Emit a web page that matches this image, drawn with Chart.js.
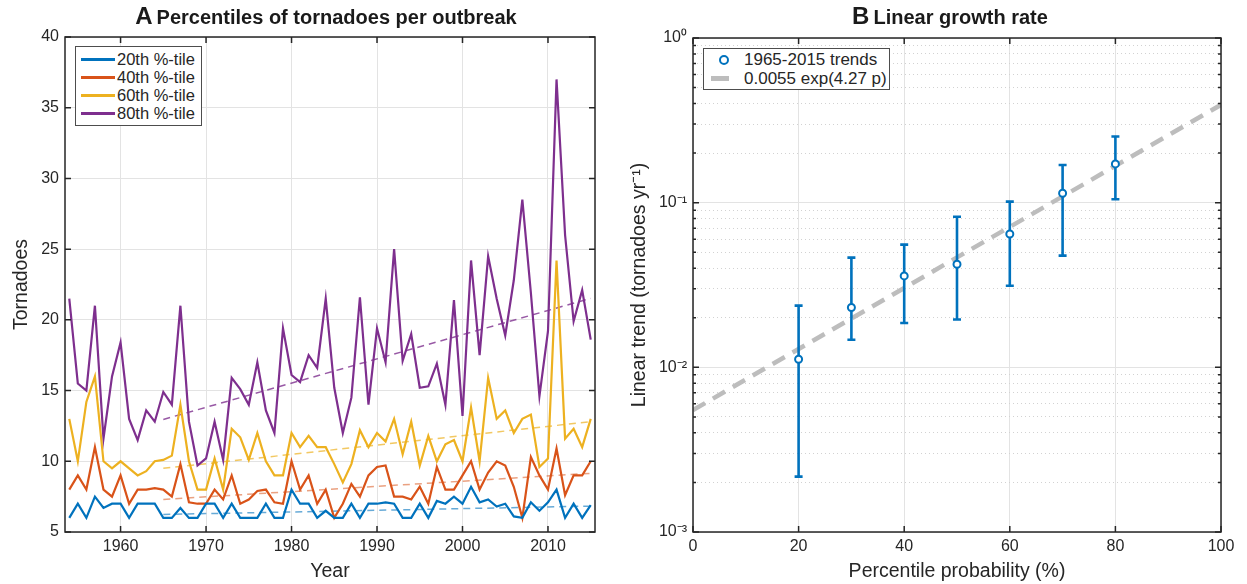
<!DOCTYPE html>
<html>
<head>
<meta charset="utf-8">
<title>Tornado outbreaks</title>
<script src="https://cdn.jsdelivr.net/npm/chart.js@4.4.1/dist/chart.umd.min.js"></script>
<style>
    body { margin: 0; background: #fff; font-family: 'Liberation Sans', Arial, sans-serif; color: #262626; }
    #page { position: relative; width: 1247px; height: 584px; overflow: hidden; }
    .panel { position: absolute; top: 0; }
    .title { position: absolute; top: 2px; transform: translateX(-50%); white-space: nowrap; font-weight: bold; font-size: 20px; color: #1a1a1a; }
    .title .tag { font-size: 24px; margin-right: 4px; }
    .legend { position: absolute; background: #fff; border: 1px solid #4d4d4d; box-sizing: border-box; }
    .legend-item { display: flex; align-items: center; white-space: nowrap; }
    .legend-line { display: inline-block; width: 34px; height: 3px; margin-right: 2px; }
    .legend-marker { display: inline-block; width: 6px; height: 6px; border: 2px solid #0072BD; border-radius: 50%; margin: 0 15px 0 15px; }
    .legend-fit { display: inline-block; width: 18px; height: 5px; background: #bdbdbd; margin: 0 15px 0 7px; }
</style>
</head>
<body>
<div id="page">
    <div class="panel" style="left:0"><canvas id="chartA" width="620" height="584"></canvas></div>
    <div class="panel" style="left:620px"><canvas id="chartB" width="627" height="584"></canvas></div>
    <div class="title" style="left:326px"><span class="tag">A</span>Percentiles of tornadoes per outbreak</div>
    <div class="title" style="left:950px"><span class="tag">B</span>Linear growth rate</div>
    <div id="legendA" class="legend" style="left:75px; top:46px; width:127px; height:80px; padding:3px 0 0 5px; font-size:16.5px; line-height:18px;"></div>
    <div id="legendB" class="legend" style="left:703px; top:48px; width:187px; height:42px; padding:1px 0 0 0; font-size:17px; line-height:19px;"></div>
</div>
<script>
// Panel A data: percentiles of tornadoes per outbreak
const years = [1954, 1955, 1956, 1957, 1958, 1959, 1960, 1961, 1962, 1963,
    1964, 1965, 1966, 1967, 1968, 1969, 1970, 1971, 1972, 1973,
    1974, 1975, 1976, 1977, 1978, 1979, 1980, 1981, 1982, 1983,
    1984, 1985, 1986, 1987, 1988, 1989, 1990, 1991, 1992, 1993,
    1994, 1995, 1996, 1997, 1998, 1999, 2000, 2001, 2002, 2003,
    2004, 2005, 2006, 2007, 2008, 2009, 2010, 2011, 2012, 2013,
    2014, 2015];
const p20 = [6, 7, 6, 7.5, 6.7, 7, 7, 6, 7, 7,
    7, 6, 6, 6.7, 6, 6, 7, 7, 6, 7,
    6, 6, 6, 7, 6, 6, 8, 7, 7, 6,
    6.5, 6, 6, 7, 6, 7, 7, 7.1, 7, 6,
    6, 7, 6, 7.2, 7, 7.5, 7, 8.2, 7.1, 7.3,
    6.8, 7, 6.1, 6, 7.1, 6.5, 7.1, 8, 6, 7,
    6, 6.9];
const p40 = [8, 9, 8, 11, 8, 7.5, 9, 7, 8, 8,
    8.1, 8, 7.5, 9.8, 7.1, 7, 7, 8, 7.3, 9,
    7, 7.3, 7.9, 8, 7.1, 7, 10, 8, 9, 7,
    8, 6, 7, 8.4, 7.5, 9, 9.6, 9.7, 7.5, 7.5,
    7.3, 8.2, 7, 9.6, 8, 8, 9, 10, 8, 9.2,
    10, 9.7, 8.2, 6, 10.3, 9, 8, 10.9, 7.6, 9,
    9, 10];
const p60 = [13, 10, 14.2, 16, 10, 9.5, 10, 9.5, 9, 9.3,
    10, 10.1, 10.4, 14, 10, 8, 8, 10.2, 8, 12.3,
    11.7, 10.1, 12, 10, 9, 9, 12, 11, 11.8, 11,
    11, 9.8, 8.5, 9.8, 12.2, 11, 12, 11.4, 13, 10.5,
    12.8, 9.7, 11.8, 10, 11.2, 11.5, 10, 13.8, 10, 15.9,
    13, 13.6, 12, 13, 13.3, 9.6, 10.2, 24.2, 11.6, 12.3,
    11, 13];
const p80 = [21.5, 15.5, 15, 21, 11.6, 16, 18.4, 13, 11.5, 13.6,
    12.8, 14.9, 14, 21, 12.8, 9.7, 10.2, 12.8, 10.1, 15.9,
    15.1, 14, 17, 13.6, 12, 19.4, 16.1, 15.6, 17.5, 16.6,
    21.5, 15.2, 12, 14.5, 21.6, 14, 19.4, 17, 25, 17.1,
    19, 15.2, 15.3, 16.9, 14, 21.4, 13.2, 24.2, 17.5, 24.5,
    21.5, 18.9, 22.8, 28.5, 21.9, 14.6, 19.2, 37, 26, 19.9,
    22.1, 18.6];
// 1965-2015 linear fits (start and end value)
const trendYears = [1965, 2015];
const trend20 = [6.24, 6.83];
const trend40 = [7.3, 9.15];
const trend60 = [9.5, 12.8];
const trend80 = [12.96, 21.52];
const seriesLabels = ['20th %-tile', '40th %-tile', '60th %-tile', '80th %-tile'];
const xTicksA = [1960, 1970, 1980, 1990, 2000, 2010];
const yTicksA = [5, 10, 15, 20, 25, 30, 35, 40];

// Panel B data: linear trend per percentile
const pctX = [20, 30, 40, 50, 60, 70, 80];
const trendRate = [0.0112, 0.0231, 0.0359, 0.0423, 0.0645, 0.114, 0.172];
const rateLow = [0.00217, 0.0147, 0.0186, 0.0195, 0.0313, 0.0477, 0.105];
const rateHigh = [0.0237, 0.0464, 0.0556, 0.0822, 0.1014, 0.1694, 0.252];
const fitX = [0, 100];
const fitY = [0.0055, 0.393];
const xTicksB = [0, 20, 40, 60, 80, 100];
const yTicksB = [0.001, 0.01, 0.1, 1];
const yTickLabelsB = ['10\u207B\u00B3', '10\u207B\u00B2', '10\u207B\u00B9', '10\u2070'];
const yMinorB = [0.002, 0.003, 0.004, 0.005, 0.006, 0.007, 0.008, 0.009,
    0.02, 0.03, 0.04, 0.05, 0.06, 0.07, 0.08, 0.09,
    0.2, 0.3, 0.4, 0.5, 0.6, 0.7, 0.8, 0.9];

const colors = ['#0072BD', '#D95319', '#EDB120', '#7E2F8E'];
const trendColors = ['rgba(0,114,189,0.6)', 'rgba(217,83,25,0.55)', 'rgba(237,177,32,0.7)', 'rgba(126,47,142,0.8)'];

Chart.defaults.font.family = "'Liberation Sans', Arial, sans-serif";
Chart.defaults.color = '#262626';
Chart.defaults.animation = false;

const toPoints = (xs, ys) => xs.map((x, i) => ({ x: x, y: ys[i] }));

// box around the plot area with inward tick marks, like the original axes
const framePlugin = {
    id: 'frame',
    afterDraw(chart) {
        const ctx = chart.ctx;
        const a = chart.chartArea;
        const xs = chart.scales.x;
        const ys = chart.scales.y;
        ctx.save();
        ctx.strokeStyle = '#262626';
        ctx.lineWidth = 1.5;
        ctx.beginPath();
        xs.ticks.forEach(t => {
            const px = xs.getPixelForValue(t.value);
            ctx.moveTo(px, a.bottom); ctx.lineTo(px, a.bottom - 6);
            ctx.moveTo(px, a.top); ctx.lineTo(px, a.top + 6);
        });
        ys.ticks.forEach(t => {
            const py = ys.getPixelForValue(t.value);
            ctx.moveTo(a.left, py); ctx.lineTo(a.left + 6, py);
            ctx.moveTo(a.right, py); ctx.lineTo(a.right - 6, py);
        });
        if (chart.scales.yMinor) {
            chart.scales.yMinor.ticks.forEach(t => {
                const py = ys.getPixelForValue(t.value);
                ctx.moveTo(a.left, py); ctx.lineTo(a.left + 3, py);
                ctx.moveTo(a.right, py); ctx.lineTo(a.right - 3, py);
            });
        }
        ctx.stroke();
        ctx.strokeRect(a.left, a.top, a.width, a.height);
        ctx.restore();
    }
};

// error bars, drawn right after the grey fit line so the markers sit on top
const errorBarPlugin = {
    id: 'errorBars',
    afterDatasetDraw(chart, args) {
        if (args.index !== 1) return;
        const ctx = chart.ctx;
        const xs = chart.scales.x;
        const ys = chart.scales.y;
        ctx.save();
        ctx.strokeStyle = '#0072BD';
        ctx.lineWidth = 2.6;
        ctx.beginPath();
        pctX.forEach((p, i) => {
            const px = xs.getPixelForValue(p);
            const top = ys.getPixelForValue(rateHigh[i]);
            const bot = ys.getPixelForValue(rateLow[i]);
            ctx.moveTo(px, top); ctx.lineTo(px, bot);
            ctx.moveTo(px - 4, top); ctx.lineTo(px + 4, top);
            ctx.moveTo(px - 4, bot); ctx.lineTo(px + 4, bot);
        });
        ctx.stroke();
        ctx.restore();
    }
};

const tickFont = { size: 16 };
const titleFont = { size: 19.5 };

// ---- Panel A ----
const seriesA = [p20, p40, p60, p80];
const trendsA = [trend20, trend40, trend60, trend80];
const datasetsA = seriesA.map((s, i) => ({
    label: seriesLabels[i],
    data: toPoints(years, s),
    borderColor: colors[i],
    backgroundColor: colors[i],
    borderWidth: 2.2,
    pointRadius: 0,
    showLine: true,
    tension: 0
})).concat(trendsA.map((t, i) => ({
    label: seriesLabels[i] + ' trend',
    data: toPoints(trendYears, t),
    borderColor: trendColors[i],
    borderWidth: 1.5,
    borderDash: [7, 5],
    pointRadius: 0,
    showLine: true,
    tension: 0
})));

const chartA = new Chart(document.getElementById('chartA'), {
    type: 'scatter',
    data: { datasets: datasetsA },
    options: {
        responsive: false,
        layout: { padding: { top: 37, right: 25, left: 0, bottom: 0 } },
        plugins: { legend: { display: false }, tooltip: { enabled: false } },
        scales: {
            x: {
                type: 'linear', min: 1953.5, max: 2015.5,
                afterBuildTicks: s => { s.ticks = xTicksA.map(v => ({ value: v })); },
                afterFit: s => { s.height = 52; },
                ticks: { font: tickFont, padding: 5, maxRotation: 0, callback: v => String(v) },
                grid: { color: '#e3e3e3', drawTicks: false },
                border: { display: false },
                title: { display: true, text: 'Year', font: titleFont, padding: { top: 0, bottom: 1 } }
            },
            y: {
                type: 'linear', min: 5, max: 40,
                afterBuildTicks: s => { s.ticks = yTicksA.map(v => ({ value: v })); },
                afterFit: s => { s.width = 65; },
                ticks: { font: tickFont, padding: 6, callback: v => String(v) },
                grid: { color: '#e3e3e3', drawTicks: false },
                border: { display: false },
                title: { display: true, text: 'Tornadoes', font: titleFont, padding: { top: 10, bottom: 0 } }
            }
        }
    },
    plugins: [framePlugin]
});

const updateLegend = (chart) => {
    const legendContainer = document.getElementById('legendA');
    const items = chart.data.datasets.slice(0, 4).map(ds => `
        <div class="legend-item">
            <span class="legend-line" style="background:${ds.borderColor};"></span>
            <span>${ds.label}</span>
        </div>`);
    legendContainer.innerHTML = items.join('');
};
updateLegend(chartA);

// ---- Panel B ----
const chartB = new Chart(document.getElementById('chartB'), {
    type: 'scatter',
    data: {
        datasets: [{
            label: '1965-2015 trends',
            data: toPoints(pctX, trendRate),
            borderColor: '#0072BD',
            backgroundColor: '#ffffff',
            pointRadius: 3.5,
            pointBorderWidth: 2,
            order: 1
        }, {
            label: '0.0055 exp(4.27 p)',
            data: toPoints(fitX, fitY),
            borderColor: '#bdbdbd',
            borderWidth: 4.5,
            borderDash: [14, 9],
            pointRadius: 0,
            showLine: true,
            order: 2
        }]
    },
    options: {
        responsive: false,
        layout: { padding: { top: 38, right: 26, left: 0, bottom: 0 } },
        plugins: { legend: { display: false }, tooltip: { enabled: false } },
        scales: {
            x: {
                type: 'linear', min: 0, max: 100,
                afterBuildTicks: s => { s.ticks = xTicksB.map(v => ({ value: v })); },
                afterFit: s => { s.height = 52; },
                ticks: { font: tickFont, padding: 5, maxRotation: 0, callback: v => String(v) },
                grid: { color: '#e3e3e3', drawTicks: false },
                border: { display: false },
                title: { display: true, text: 'Percentile probability (%)', font: titleFont, padding: { top: 0, bottom: 1 } }
            },
            y: {
                type: 'logarithmic', min: 0.001, max: 1,
                afterBuildTicks: s => { s.ticks = yTicksB.map(v => ({ value: v })); },
                afterFit: s => { s.width = 73; },
                ticks: {
                    font: tickFont, padding: 6,
                    callback: v => yTickLabelsB[yTicksB.findIndex(t => Math.abs(t - v) < t * 1e-6)]
                },
                grid: { color: '#e3e3e3', drawTicks: false },
                border: { display: false },
                title: { display: true, text: 'Linear trend (tornadoes yr\u207B\u00B9)', font: titleFont, padding: { top: 8, bottom: 0 } }
            },
            yMinor: {
                type: 'logarithmic', min: 0.001, max: 1, position: 'left',
                afterBuildTicks: s => { s.ticks = yMinorB.map(v => ({ value: v })); },
                afterFit: s => { s.width = 0; },
                ticks: { display: false },
                grid: { color: '#d2d2d2', drawTicks: false },
                border: { display: false, dash: [1, 3] }
            }
        }
    },
    plugins: [framePlugin, errorBarPlugin]
});

document.getElementById('legendB').innerHTML = `
    <div class="legend-item"><span class="legend-marker"></span><span>${chartB.data.datasets[0].label}</span></div>
    <div class="legend-item"><span class="legend-fit"></span><span>${chartB.data.datasets[1].label}</span></div>`;
</script>
</body>
</html>
